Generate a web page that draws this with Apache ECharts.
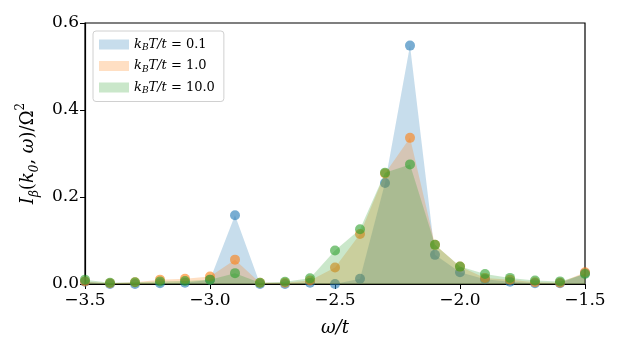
<!DOCTYPE html>
<html>
<head>
<meta charset="utf-8">
<style type="text/css">
html,body{ margin:0; padding:0; background:#FFFFFF; }
#chart{ width:623px; height:363px; }
</style>
</head>
<body>
<div id="chart"></div>
<script src="https://cdn.jsdelivr.net/npm/echarts@6/dist/echarts.min.js"></script>
<script type="text/javascript">
// omega/t grid points
var omega = [-3.5, -3.4, -3.3, -3.2, -3.1, -3.0, -2.9, -2.8, -2.7, -2.6, -2.5,
             -2.4, -2.3, -2.2, -2.1, -2.0, -1.9, -1.8, -1.7, -1.6, -1.5];
// kBT/t = 0.1
var temp01 = [0.005, 0.0, 0.0, 0.002, 0.003, 0.01, 0.158, 0.0, 0.0, 0.003, 0.0,
              0.012, 0.232, 0.548, 0.067, 0.027, 0.011, 0.005, 0.002, 0.002, 0.025];
// kBT/t = 1.0
var temp10 = [0.006, 0.002, 0.004, 0.01, 0.012, 0.017, 0.056, 0.003, 0.003, 0.008, 0.038,
              0.115, 0.254, 0.336, 0.09, 0.04, 0.014, 0.01, 0.004, 0.003, 0.027];
// kBT/t = 10.0
var temp100 = [0.01, 0.003, 0.004, 0.006, 0.007, 0.01, 0.025, 0.003, 0.005, 0.013, 0.077,
               0.126, 0.256, 0.275, 0.09, 0.04, 0.023, 0.014, 0.008, 0.006, 0.023];
var names = ['0.1', '1.0', '10.0'];
var colors = ['#1f77b4', '#ff7f0e', '#2ca02c'];
var fills = ['rgba(31,119,180,0.25)', 'rgba(255,127,14,0.25)', 'rgba(44,160,44,0.25)'];
var xTicks = [-3.5, -3.0, -2.5, -2.0, -1.5];
var yTicks = [0.0, 0.2, 0.4, 0.6];

var serif = 'DejaVu Serif';

function pairs(ys) {
    var out = [];
    for (var i = 0; i < omega.length; i++) {
        out.push([omega[i], ys[i]]);
    }
    return out;
}
function minus(v) {
    return v < 0 ? '\u2212' + (-v).toFixed(1) : v.toFixed(1);
}

var allData = [temp01, temp10, temp100];
var series = [];
var legendData = [];
for (var k = 0; k < allData.length; k++) {
    series.push({
        name: names[k],
        type: 'line',
        data: pairs(allData[k]),
        symbol: 'circle',
        symbolSize: 10,
        itemStyle: { color: colors[k], opacity: 0.6 },
        lineStyle: { width: 0, opacity: 0 },
        areaStyle: { color: fills[k], opacity: 1 },
        z: 2 + k
    });
    legendData.push({ name: names[k], itemStyle: { color: fills[k], opacity: 1 } });
}

var myChart = echarts.init(document.getElementById('chart'));
var option = {
    animation: false,
    backgroundColor: '#FFFFFF',
    grid: {
        left: 85, right: 38, top: 23, bottom: 79,
        show: true, borderColor: '#000', borderWidth: 1.2, backgroundColor: 'transparent'
    },
    legend: {
        data: legendData,
        orient: 'vertical',
        left: 93, top: 31,
        icon: 'rect',
        itemWidth: 30, itemHeight: 10,
        itemGap: 7,
        padding: [7, 9, 6, 6],
        borderColor: '#d0d0d0', borderWidth: 1, borderRadius: 3,
        backgroundColor: 'rgba(255,255,255,0.8)',
        formatter: function (n) {
            return '{i|k}{s|B}{i|T/t} {r|= ' + n + '}';
        },
        textStyle: {
            fontFamily: serif, fontSize: 13, color: '#000',
            rich: {
                i: { fontFamily: serif, fontStyle: 'italic', fontSize: 13, lineHeight: 16 },
                s: { fontFamily: serif, fontStyle: 'italic', fontSize: 9, verticalAlign: 'bottom', lineHeight: 12 },
                r: { fontFamily: serif, fontSize: 13, lineHeight: 16 }
            }
        }
    },
    xAxis: {
        type: 'value',
        min: -3.5, max: -1.5, interval: 0.5,
        name: '{i|ω/t}',
        nameLocation: 'middle',
        nameGap: 35,
        nameTextStyle: {
            rich: { i: { fontFamily: serif, fontStyle: 'italic', fontSize: 18, color: '#000' } }
        },
        splitLine: { show: false },
        axisLine: { onZero: false, lineStyle: { color: '#000', width: 1.2 } },
        axisTick: { inside: false, length: 5, lineStyle: { color: '#000' } },
        axisLabel: {
            fontFamily: serif, fontSize: 17, color: '#000', margin: 8,
            formatter: function (v) { return minus(v); },
            customValues: xTicks
        }
    },
    yAxis: {
        type: 'value',
        min: 0, max: 0.6, interval: 0.2,
        name: '{i|I}{s|β}{r|(}{i|k}{s|0}{r|, }{i|ω}{r|)/Ω}{p|2}',
        nameLocation: 'middle',
        nameGap: 44,
        nameTextStyle: {
            rich: {
                i: { fontFamily: serif, fontStyle: 'italic', fontSize: 18, color: '#000', lineHeight: 26 },
                r: { fontFamily: serif, fontSize: 18, color: '#000', lineHeight: 26 },
                s: { fontFamily: serif, fontStyle: 'italic', fontSize: 12, color: '#000', verticalAlign: 'bottom', lineHeight: 12 },
                p: { fontFamily: serif, fontSize: 12, color: '#000', verticalAlign: 'top', lineHeight: 12 }
            }
        },
        splitLine: { show: false },
        axisLine: { lineStyle: { color: '#000', width: 1.2 } },
        axisTick: { inside: false, length: 5, lineStyle: { color: '#000' } },
        axisLabel: {
            fontFamily: serif, fontSize: 17, color: '#000', margin: 6,
            formatter: function (v) { return minus(v); },
            customValues: yTicks
        }
    },
    series: series
};
myChart.setOption(option);
</script>
</body>
</html>
